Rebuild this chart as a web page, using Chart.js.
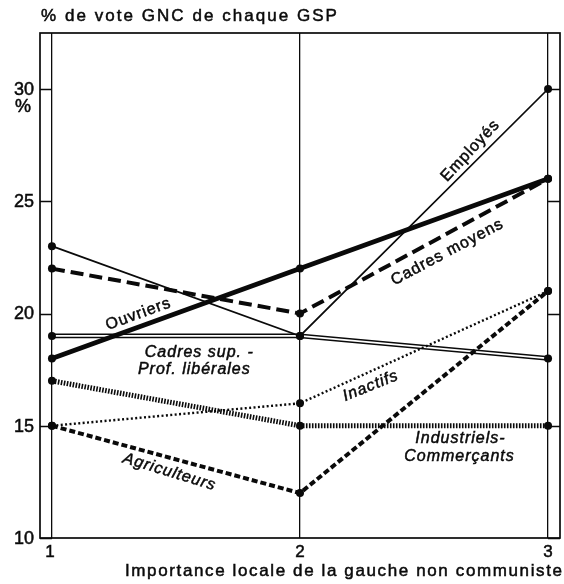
<!DOCTYPE html>
<html>
<head>
<meta charset="utf-8">
<script src="https://cdn.jsdelivr.net/npm/chart.js@4/dist/chart.umd.min.js"></script>
<style>
    html, body { margin: 0; padding: 0; background: #fff; }
    canvas { display: block; }
</style>
</head>
<body>
<canvas id="voteChart" width="564" height="584"></canvas>
<script>
// % de vote GNC par GSP selon l'importance locale de la gauche non communiste

// Data
const xValues = [1, 2, 3];
const yTicks = [10, 15, 20, 25, 30];
const employes = [23, 19, 30];
const ouvriers = [18, 22, 26];
const cadresMoyens = [22, 20, 26];
const cadresSup = [19, 19, 18];
const inactifs = [15, 16, 21];
const industriels = [17, 15, 15];
const agriculteurs = [15, 12, 21];

const chartTitle = '% de vote GNC de chaque GSP';
const xTitle = 'Importance locale de la gauche non communiste';

// Inline line labels (placed in data coordinates)
const lineLabels = [
    { text: 'Employés', x: 2.687, y: 27.25, angle: -47, italic: false },
    { text: 'Cadres moyens', x: 2.594, y: 22.73, angle: -28, italic: false },
    { text: 'Ouvriers', x: 1.349, y: 19.97, angle: -20, italic: false },
    { text: 'Cadres sup. -', x: 1.594, y: 18.28, angle: 0, italic: true },
    { text: 'Prof. libérales', x: 1.574, y: 17.52, angle: 0, italic: true },
    { text: 'Inactifs', x: 2.285, y: 16.77, angle: -22, italic: true },
    { text: 'Industriels-', x: 2.647, y: 14.41, angle: 0, italic: true },
    { text: 'Commerçants', x: 2.643, y: 13.65, angle: 0, italic: true },
    { text: 'Agriculteurs', x: 1.474, y: 12.94, angle: 17, italic: true }
];

const ink = '#0a0a0a';
const fontFamily = '"Liberation Sans", Arial, sans-serif';

function toPoints(values) {
    return xValues.map((x, i) => ({ x: x, y: values[i] }));
}

function series(label, values, width, dash, extra) {
    return Object.assign({
        label: label,
        data: toPoints(values),
        borderColor: ink,
        borderWidth: width,
        borderDash: dash,
        borderCapStyle: 'butt',
        tension: 0,
        pointRadius: 4,
        pointBackgroundColor: ink,
        pointBorderColor: ink,
        pointBorderWidth: 0,
        fill: false
    }, extra || {});
}

// text with a light stroke so it looks like the heavier printed type
function inkText(ctx, text, x, y) {
    ctx.fillText(text, x, y);
    ctx.lineWidth = 0.5;
    ctx.strokeStyle = ink;
    ctx.strokeText(text, x, y);
}

// draw text stretched to a given width with letter spacing
function fitText(ctx, text, left, baseline, width, font) {
    ctx.save();
    ctx.font = font;
    ctx.letterSpacing = '0px';
    const w = ctx.measureText(text).width;
    const spacing = (width - w) / (text.length - 1);
    ctx.letterSpacing = spacing.toFixed(2) + 'px';
    ctx.textAlign = 'left';
    ctx.textBaseline = 'alphabetic';
    ctx.fillStyle = ink;
    inkText(ctx, text, left, baseline);
    ctx.restore();
}

const decorPlugin = {
    id: 'decor',
    beforeDraw(chart) {
        const ctx = chart.ctx;
        ctx.save();
        ctx.fillStyle = '#fff';
        ctx.fillRect(0, 0, chart.width, chart.height);
        ctx.restore();
    },
    afterDraw(chart) {
        const ctx = chart.ctx;
        const area = chart.chartArea;
        const xs = chart.scales.x;
        const ys = chart.scales.y;
        const x1 = xs.getPixelForValue(1);
        const x3 = xs.getPixelForValue(3);

        ctx.save();
        ctx.strokeStyle = ink;

        // frame
        ctx.lineWidth = 1.7;
        ctx.strokeRect(area.left, area.top, area.right - area.left, area.bottom - area.top);

        // short ticks on both sides
        ctx.lineWidth = 1.3;
        yTicks.forEach(v => {
            const py = Math.round(ys.getPixelForValue(v)) + 0.5;
            ctx.beginPath();
            ctx.moveTo(area.left, py);
            ctx.lineTo(x1, py);
            ctx.moveTo(x3, py);
            ctx.lineTo(area.right, py);
            ctx.stroke();
        });

        // y tick labels
        ctx.fillStyle = ink;
        ctx.font = '18px ' + fontFamily;
        ctx.textAlign = 'right';
        ctx.textBaseline = 'middle';
        yTicks.forEach(v => {
            inkText(ctx, String(v), 34, ys.getPixelForValue(v) + 1);
        });
        ctx.textAlign = 'center';
        inkText(ctx, '%', 23, ys.getPixelForValue(30) + 18);

        // x tick labels
        ctx.font = '17px ' + fontFamily;
        ctx.textBaseline = 'alphabetic';
        xValues.forEach(v => {
            inkText(ctx, String(v), xs.getPixelForValue(v) - (v === 1 ? 2 : 0), 557);
        });

        // titles
        fitText(ctx, chartTitle, 41, 21, 296, '17px ' + fontFamily);
        fitText(ctx, xTitle, 125, 576, 437, '17px ' + fontFamily);

        // inline labels
        lineLabels.forEach(l => {
            ctx.save();
            ctx.translate(xs.getPixelForValue(l.x), ys.getPixelForValue(l.y));
            ctx.rotate(l.angle * Math.PI / 180);
            ctx.font = (l.italic ? 'italic ' : '') + '16px ' + fontFamily;
            ctx.letterSpacing = '1px';
            ctx.textAlign = 'center';
            ctx.textBaseline = 'middle';
            ctx.fillStyle = ink;
            inkText(ctx, l.text, 0, 0);
            ctx.restore();
        });

        ctx.restore();
    }
};

function initVoteChart() {
    const ctx = document.getElementById('voteChart').getContext('2d');

    window.voteChart = new Chart(ctx, {
        type: 'line',
        data: {
            datasets: [
                series('Employés', employes, 1.7, []),
                series('Ouvriers', ouvriers, 4.8, []),
                series('Cadres moyens', cadresMoyens, 4, [13, 6]),
                // double line: wide black stroke with a white core drawn on top
                series('Cadres sup. - Prof. libérales', cadresSup, 4.8, [], { pointRadius: 0, order: 10 }),
                series('Cadres sup. (core)', cadresSup, 1.7, [], { borderColor: '#fff', order: 9 }),
                series('Inactifs', inactifs, 2.4, [2, 2.4]),
                series('Industriels-Commerçants', industriels, 5.2, [1.6, 1.4]),
                series('Agriculteurs', agriculteurs, 4, [6, 3])
            ]
        },
        options: {
            responsive: false,
            devicePixelRatio: 1,
            animation: false,
            layout: { padding: { top: 33, right: 2, left: 0, bottom: 0 } },
            plugins: {
                legend: { display: false },
                tooltip: { enabled: false },
                title: { display: false }
            },
            scales: {
                x: {
                    type: 'linear',
                    min: 1 - 12 / 249,
                    max: 3 + 12 / 249,
                    afterBuildTicks: function(scale) {
                        scale.ticks = xValues.map(v => ({ value: v }));
                    },
                    afterFit: function(scale) {
                        scale.height = 46;
                    },
                    grid: {
                        color: ink,
                        lineWidth: 1.3,
                        drawTicks: false
                    },
                    border: { display: false },
                    ticks: { display: false }
                },
                y: {
                    min: 10,
                    max: 10 + 505 / 22.45,
                    afterBuildTicks: function(scale) {
                        scale.ticks = yTicks.map(v => ({ value: v }));
                    },
                    afterFit: function(scale) {
                        scale.width = 40;
                    },
                    grid: { display: false, drawTicks: false },
                    border: { display: false },
                    ticks: { display: false }
                }
            }
        },
        plugins: [decorPlugin]
    });
}

initVoteChart();
</script>
</body>
</html>
